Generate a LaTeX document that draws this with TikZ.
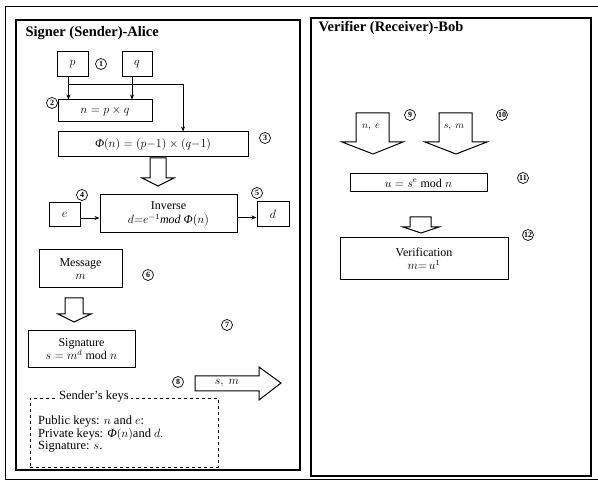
\documentclass[tikz,border=0pt]{standalone}
\usepackage{fontspec}
\setmainfont{Liberation Serif}
\usetikzlibrary{arrows.meta}

\newcommand{\bigphi}{\textit{Φ}}

\begin{document}
\begin{tikzpicture}[
  x=1pt,
  y=-1pt,
  >={Stealth[length=5pt,width=4pt]},
  font=\fontsize{12}{13}\selectfont,
  frame/.style={draw=black, line width=1.3pt},
  stepbox/.style={
    rectangle,
    draw=black,
    line width=1pt,
    inner sep=1pt,
    align=center
  },
  num/.style={
    circle,
    draw=black,
    line width=0.7pt,
    minimum size=11pt,
    inner sep=0pt,
    font=\fontsize{8}{8}\selectfont\bfseries
  },
  flow/.style={->, draw=black, line width=0.9pt},
  hollow/.style={draw=black, line width=1pt, fill=white, line join=miter},
  keys/.style={draw=black, dashed, line width=0.8pt},
  title/.style={font=\fontsize{14.5}{16}\selectfont\bfseries, anchor=west}
]
\useasboundingbox (0,0) rectangle (598,481);

% Outer frame and the two panels
\draw[frame, line width=1pt] (598,7) -- (5,7) -- (5,480) -- (598,480);
\draw[frame] (16,20) rectangle (300,470);
\draw[frame] (311,18) rectangle (591,476);
\node[title] (alice) at (22,33) {Signer (Sender)-Alice};
\node[title] (bob) at (315,28) {Verifier (Receiver)-Bob};

% ---------------------------------------------------------------------------
% Signer: key generation
% ---------------------------------------------------------------------------
\node[stepbox, minimum width=31pt, minimum height=25pt] (p) at (72.5,64.5) {$p$};
\node[stepbox, minimum width=30pt, minimum height=25pt] (q) at (137,64.5) {$q$};
\node[stepbox, minimum width=94pt, minimum height=22pt] (nbox) at (105,111) {$n = p \times q$};
\node[stepbox, minimum width=190pt, minimum height=25pt] (phi) at (153,144.5)
  {\bigphi$(n) = (p\mathit{-}1) \times (q\mathit{-}1)$};
\node[num] (c1) at (101,64) {1};
\node[num] (c2) at (52,103) {2};
\node[num] (c3) at (265,138) {3};

\draw[flow] ([xshift=-4pt]p.south) -- ([xshift=-4pt]p.south |- nbox.north);
\draw[flow] ([xshift=-5pt]q.south) -- ([xshift=-5pt]q.south |- nbox.north);
\draw[flow] ([xshift=-4pt,yshift=-7pt]p.south) -| ([xshift=30pt]phi.north);

\draw[hollow] (150,158) -- (166,158) -- (166,178) -- (174,178) -- (158,186)
  -- (142,178) -- (150,178) -- cycle;

\node[stepbox, minimum width=137pt, minimum height=38pt] (inv) at (168.5,214)
  {Inverse\\[1pt] $d{=}e^{-1}$\textit{mod} \bigphi$(n)$};
\node[stepbox, minimum width=31pt, minimum height=24pt] (e) at (64.5,215) {$e$};
\node[stepbox, minimum width=32pt, minimum height=25pt] (d) at (273,214.5) {$d$};
\node[num] (c4) at (82,195) {4};
\node[num] (c5) at (257,193) {5};

\draw[flow] ([yshift=-3pt]e.east) -- ([yshift=-3pt]e.east -| inv.west);
\draw[flow] ([yshift=-3pt]d.west -| inv.east) -- ([yshift=-3pt]d.west);

% ---------------------------------------------------------------------------
% Signer: signing
% ---------------------------------------------------------------------------
\node[stepbox, minimum width=83pt, minimum height=38pt] (msg) at (80.5,269)
  {Message\\ $m$};
\node[num] (c6) at (148,275) {6};

\draw[hollow] (65,298) -- (83,298) -- (83,314) -- (91,314) -- (74,322)
  -- (58,314) -- (65,314) -- cycle;

\node[stepbox, minimum width=107pt, minimum height=37pt] (sig) at (81.5,349)
  {Signature\\ $s = m^d \bmod n$};
\node[num] (c7) at (227,325) {7};
\node[num] (c8) at (178,382) {8};

\draw[hollow] (195,376) -- (259,376) -- (259,367) -- (281,383) -- (259,400)
  -- (259,391) -- (195,391) -- cycle;
\node (send) at (227,383.5) {$s,\ m$};

% Sender's keys
\node[keys, minimum width=188pt, minimum height=69pt] (keysbox) at (124,432.5) {};
\node[fill=white, inner sep=2pt, font=\fontsize{12.5}{13}\selectfont] (keystitle) at (94,397) {Sender's keys};
\node[anchor=north west, align=left, inner sep=0pt, font=\fontsize{12.5}{12.5}\selectfont]
  (keystext) at (38,416)
  {Public keys: $n$ and $e$:\\
   Private keys: \bigphi$(n)$and $d$.\\
   Signature: $s$.};

% ---------------------------------------------------------------------------
% Verifier
% ---------------------------------------------------------------------------
\draw[hollow] (356,113) -- (389,113) -- (389,142) -- (403,142) -- (373,154)
  -- (342,142) -- (356,142) -- cycle;
\node[font=\fontsize{10}{10}\selectfont] (ne) at (371,127) {$n,\ e$};
\draw[hollow] (439,113) -- (472,113) -- (472,142) -- (487,142) -- (456,154)
  -- (425,142) -- (439,142) -- cycle;
\node[font=\fontsize{10}{10}\selectfont] (sm) at (454,127) {$s,\ m$};
\node[num] (c9) at (410,115) {9};
\node[num] (c10) at (502,115) {10};

\node[stepbox, minimum width=137pt, minimum height=18pt] (ubox) at (418.5,183)
  {$u = s^e \bmod n$};
\node[num] (c11) at (523,178) {11};

\draw[hollow] (410,217) -- (431,217) -- (431,227) -- (439,227) -- (421,233)
  -- (403,227) -- (410,227) -- cycle;

\node[stepbox, minimum width=168pt, minimum height=42pt] (ver) at (424,259)
  {Verification\\ $m{=}\,u^{1}$};
\node[num] (c12) at (528,235) {12};

\end{tikzpicture}
\end{document}
